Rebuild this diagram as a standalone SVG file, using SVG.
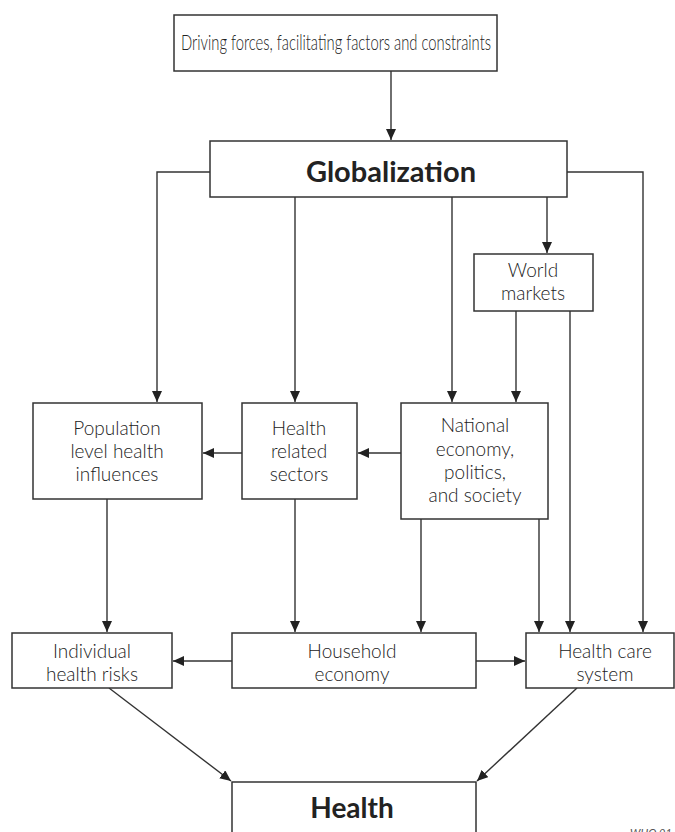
<svg xmlns="http://www.w3.org/2000/svg" width="675" height="832" viewBox="0 0 675 832">
<defs>
<marker id="ah" markerUnits="userSpaceOnUse" markerWidth="12" markerHeight="10" refX="11" refY="5" orient="auto">
<path d="M0,0 L11,5 L0,10 Z" fill="#222"/>
</marker>
<style>
.box{fill:#fff;stroke:#333;stroke-width:1.5}
.t{font-family:Lato,"Liberation Sans",sans-serif;font-size:19px;fill:#222;text-anchor:middle;font-weight:300}
.t.big{font-size:21px}
.b{font-family:Lato,"Liberation Sans",sans-serif;font-weight:700;fill:#222;text-anchor:middle}
.c{fill:none;stroke:#333;stroke-width:1.4}
</style>
</defs>
<rect width="675" height="832" fill="#fff"/>
<g id="connectors">
<path class="c" d="M391,71 V140" marker-end="url(#ah)"/>
<path class="c" d="M210,172 H157 V402" marker-end="url(#ah)"/>
<path class="c" d="M295,197 V402" marker-end="url(#ah)"/>
<path class="c" d="M452,197 V402" marker-end="url(#ah)"/>
<path class="c" d="M547,197 V253" marker-end="url(#ah)"/>
<path class="c" d="M567,172 H643 V632" marker-end="url(#ah)"/>
<path class="c" d="M516,311 V402" marker-end="url(#ah)"/>
<path class="c" d="M570,311 V632" marker-end="url(#ah)"/>
<path class="c" d="M401,453 H358" marker-end="url(#ah)"/>
<path class="c" d="M242,453 H203" marker-end="url(#ah)"/>
<path class="c" d="M107,499 V632" marker-end="url(#ah)"/>
<path class="c" d="M295,499 V632" marker-end="url(#ah)"/>
<path class="c" d="M421,519 V632" marker-end="url(#ah)"/>
<path class="c" d="M539,519 V632" marker-end="url(#ah)"/>
<path class="c" d="M232,661 H173" marker-end="url(#ah)"/>
<path class="c" d="M476,661 H525" marker-end="url(#ah)"/>
<path class="c" d="M109,688 L231,781" marker-end="url(#ah)"/>
<path class="c" d="M577,688 L477,781" marker-end="url(#ah)"/>
</g>
<g id="drivers">
<rect class="box" x="174" y="15" width="323" height="56"/>
<text class="t big" x="336" y="50" textLength="310" lengthAdjust="spacingAndGlyphs">Driving forces, facilitating factors and constraints</text>
</g>
<g id="globalization">
<rect class="box" x="210" y="141" width="357" height="56"/>
<text class="b" x="391" y="182" font-size="29">Globalization</text>
</g>
<g id="world-markets">
<rect class="box" x="474" y="254" width="119" height="57"/>
<text class="t" x="533" y="277">World</text>
<text class="t" x="533" y="300">markets</text>
</g>
<g id="population">
<rect class="box" x="33" y="403" width="169" height="96"/>
<text class="t" x="117" y="435">Population</text>
<text class="t" x="117" y="458">level health</text>
<text class="t" x="117" y="481">influences</text>
</g>
<g id="health-related">
<rect class="box" x="242" y="403" width="115" height="96"/>
<text class="t" x="299" y="435">Health</text>
<text class="t" x="299" y="458">related</text>
<text class="t" x="299" y="481">sectors</text>
</g>
<g id="national">
<rect class="box" x="401" y="403" width="147" height="116"/>
<text class="t" x="475" y="432">National</text>
<text class="t" x="475" y="456">economy,</text>
<text class="t" x="475" y="479">politics,</text>
<text class="t" x="475" y="502">and society</text>
</g>
<g id="individual">
<rect class="box" x="12" y="633" width="160" height="55"/>
<text class="t" x="92" y="658">Individual</text>
<text class="t" x="92" y="681">health risks</text>
</g>
<g id="household">
<rect class="box" x="232" y="633" width="244" height="55"/>
<text class="t" x="352" y="658">Household</text>
<text class="t" x="352" y="681">economy</text>
</g>
<g id="health-care">
<rect class="box" x="526" y="633" width="148" height="55"/>
<text class="t" x="605" y="658">Health care</text>
<text class="t" x="605" y="681">system</text>
</g>
<g id="health">
<rect class="box" x="232" y="782" width="244" height="60"/>
<text class="b" x="352" y="818" font-size="28">Health</text>
</g>
<text x="630" y="837" font-family="Lato,'Liberation Sans',sans-serif" font-size="11" font-style="italic" fill="#555">WHO 01</text>
</svg>
